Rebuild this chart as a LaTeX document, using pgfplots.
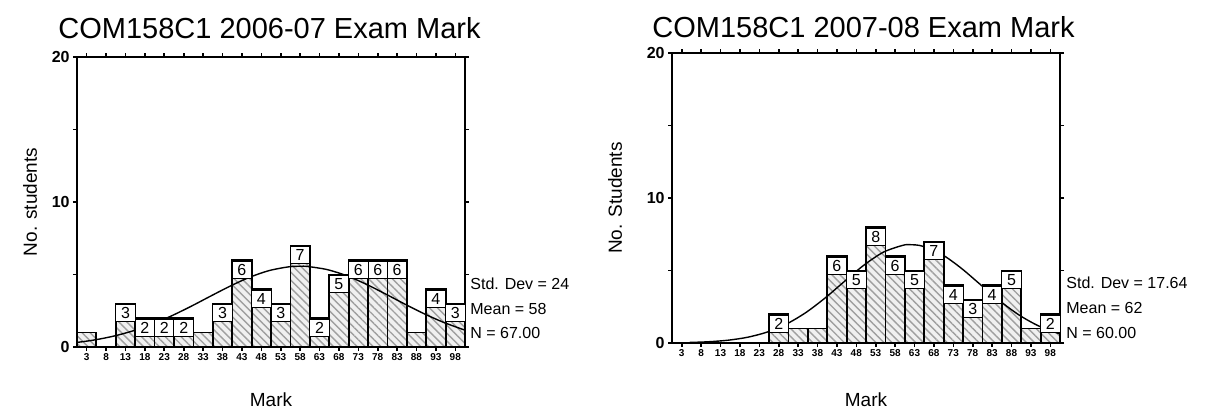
\documentclass[border=0pt]{standalone}
\usepackage{pgfplots}
\pgfplotsset{compat=1.18}
\usepackage{fontspec}
\setmainfont{Liberation Sans}
\usetikzlibrary{patterns.meta}

% common look of both histograms
\pgfplotsset{
  histo/.style={
    scale only axis, width=194pt, height=145pt,
    xmin=0.5, xmax=100.5, ymin=0, ymax=20,
    xtick={3,8,...,98},
    ytick={0,5,10,15,20}, yticklabels={0,,10,,20},
    tick align=outside, major tick length=2pt,
    axis line style={line width=1pt},
    every tick/.style={line width=0.8pt, black},
    /pgf/number format/assume math mode=true,
    xticklabel style={font=\fontsize{5}{6}\selectfont\bfseries, inner sep=1pt},
    yticklabel style={font=\fontsize{8}{9}\selectfont\bfseries, inner sep=1.5pt},
    clip=false,
  },
  bars/.style={
    ybar, bar shift=0pt, bar width=5, draw=black, line width=0.9pt, fill=gray!12,
    postaction={pattern={Lines[angle=-45,distance=2.8pt,line width=0.7pt]}, pattern color=gray!75},
  },
  lbls/.style={
    draw=none, mark=none, nodes near coords, point meta=y,
    every node near coord/.style={anchor=north, draw=black, line width=0.5pt, fill=white,
      minimum width=9.7pt, minimum height=8.5pt, inner sep=0pt, yshift=-0.3pt,
      font=\fontsize{8}{8}\selectfont},
  },
  curve/.style={smooth, line width=0.7pt, black, mark=none},
}

\begin{document}
\begin{tikzpicture}
\path[use as bounding box] (-38.5pt,-31pt) rectangle (564pt,173.5pt);

% ---- 2006-07 ----
\begin{axis}[histo, name=p1, at={(0pt,0pt)}, anchor=south west]
\addplot[bars] coordinates {
  (3,1) (8,0) (13,3) (18,2) (23,2) (28,2) (33,1) (38,3) (43,6) (48,4)
  (53,3) (58,7) (63,2) (68,5) (73,6) (78,6) (83,6) (88,1) (93,4) (98,3)};
\addplot[lbls] coordinates {
  (13,3) (18,2) (23,2) (28,2) (38,3) (43,6) (48,4) (53,3) (58,7) (63,2)
  (68,5) (73,6) (78,6) (83,6) (93,4) (98,3)};
\addplot[curve] coordinates {
  (0.5,0.316) (5,0.486) (10,0.754) (15,1.119) (20,1.590) (25,2.165) (30,2.820)
  (35,3.519) (40,4.204) (45,4.810) (50,5.269) (55,5.527) (58,5.570) (60,5.551)
  (65,5.338) (70,4.916) (75,4.334) (80,3.660) (85,2.958) (90,2.290) (95,1.697)
  (100.5,1.161)};
\end{axis}

% ---- 2007-08 ----
\begin{axis}[histo, name=p2, at={(297.5pt,2pt)}, anchor=south west]
\addplot[bars] coordinates {
  (3,0) (8,0) (13,0) (18,0) (23,0) (28,2) (33,1) (38,1) (43,6) (48,5)
  (53,8) (58,6) (63,5) (68,7) (73,4) (78,3) (83,4) (88,5) (93,1) (98,2)};
\addplot[lbls] coordinates {
  (28,2) (43,6) (48,5) (53,8) (58,6) (63,5) (68,7) (73,4) (78,3) (83,4)
  (88,5) (98,2)};
\addplot[curve] coordinates {
  (5,0.037) (10,0.088) (15,0.195) (20,0.398) (25,0.751) (30,1.308) (35,2.101)
  (40,3.115) (45,4.261) (50,5.379) (55,6.267) (60,6.737) (62,6.780) (65,6.682)
  (70,6.118) (75,5.168) (80,4.028) (85,2.898) (90,1.924) (95,1.178) (100.5,0.626)};
\end{axis}

% titles
\node[anchor=base west, font=\fontsize{14.5}{16}\selectfont, inner sep=0pt]
  at ([xshift=-9.5pt,yshift=154.5pt]p1.south west) {COM158C1 2006-07 Exam Mark};
\node[anchor=base west, font=\fontsize{14.5}{16}\selectfont, inner sep=0pt]
  at ([xshift=-10pt,yshift=153pt]p2.south west) {COM158C1 2007-08 Exam Mark};

% axis labels
\node[rotate=90, font=\fontsize{9.5}{11}\selectfont]
  at ([xshift=-23.5pt]p1.west) {No. students};
\node[rotate=90, font=\fontsize{9.5}{11}\selectfont]
  at ([xshift=-28.5pt]p2.west) {No. Students};
\node[font=\fontsize{9.5}{11}\selectfont] at ([yshift=-26.5pt]p1.south) {Mark};
\node[font=\fontsize{9.5}{11}\selectfont] at ([yshift=-28.5pt]p2.south) {Mark};

% statistics
\begin{scope}[every node/.style={anchor=west, inner sep=0pt, font=\fontsize{8}{9}\selectfont}]
\node at ([xshift=2.5pt,yshift=31.5pt]p1.south east) {Std. Dev = 24};
\node at ([xshift=2.5pt,yshift=19pt]p1.south east) {Mean = 58};
\node at ([xshift=2.5pt,yshift=7pt]p1.south east) {N = 67.00};
\node at ([xshift=3pt,yshift=30pt]p2.south east) {Std. Dev = 17.64};
\node at ([xshift=3pt,yshift=17.5pt]p2.south east) {Mean = 62};
\node at ([xshift=3pt,yshift=5pt]p2.south east) {N = 60.00};
\end{scope}
\end{tikzpicture}
\end{document}
